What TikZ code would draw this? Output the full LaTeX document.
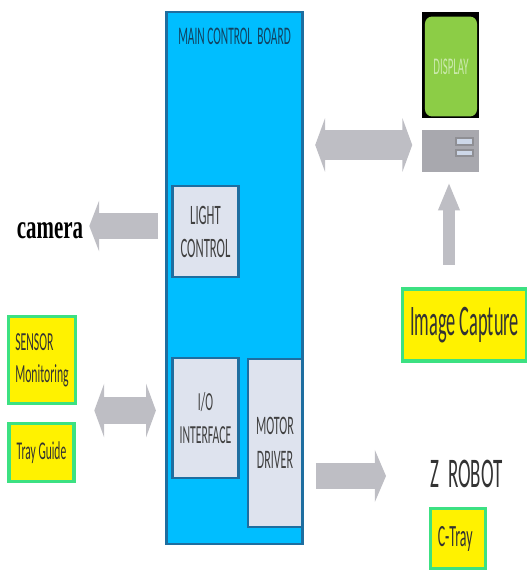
\documentclass[tikz,border=0pt]{standalone}
\usepackage{fontspec}
\usepackage{tikz}
\usetikzlibrary{arrows.meta}
\setmainfont[FakeStretch=0.45]{Carlito}
\newfontfamily\narrowfont[FakeStretch=0.42]{Carlito}
\newfontfamily\camerafont[FakeStretch=0.62]{Liberation Serif}
\definecolor{boardBlue}{RGB}{0, 190, 255}
\definecolor{boardEdge}{RGB}{30, 110, 160}
\definecolor{innerGray}{RGB}{222, 227, 238}
\definecolor{signGreen}{RGB}{60, 225, 130}
\definecolor{screenGreen}{RGB}{140, 205, 70}
\definecolor{arrowGray}{RGB}{190, 190, 196}
\definecolor{deviceGray}{RGB}{168, 168, 174}
\definecolor{barGray}{RGB}{205, 215, 232}
\tikzset{
    innerbox/.style={draw=boardEdge, line width=1.5pt, fill=innerGray, align=center, inner sep=0pt, text=black!75},
    signbox/.style={draw=signGreen, line width=2.4pt, fill=yellow, align=left, inner sep=0pt, text=black!80},
    blockarrow/.style={arrowGray, line width=19pt},
    barbox/.style={draw=deviceGray!85!black, line width=1pt, fill=barGray, minimum width=12pt, inner sep=0pt}
}
\newcommand{\sizept}[2]{\fontsize{#1}{#2}\selectfont}

\begin{document}
\begin{tikzpicture}[x=0.025cm, y=-0.025cm]
    \useasboundingbox (0,0) rectangle (526,572);
    % board
    \node[draw=boardEdge, line width=1.8pt, fill=boardBlue, minimum width=97pt, minimum height=378pt, inner sep=0pt] (board) at (234.5,278) {};
    \node[text=boardEdge!60!black, font=\sizept{18}{20}] (title) at (234.5,36) {MAIN CONTROL\ \ BOARD};
    \node[innerbox, minimum width=47pt, minimum height=65pt, font=\sizept{20}{23.5}] (light) at (205.5,231.5) {LIGHT\\CONTROL};
    \node[innerbox, minimum width=47pt, minimum height=85pt, font=\sizept{18.5}{23}] (io) at (205.5,418) {I/O\\INTERFACE};
    \node[innerbox, minimum width=38pt, minimum height=120pt, font=\sizept{19}{24}] (motor) at (275,443) {MOTOR\\DRIVER};
    % display
    \node[fill=black, minimum width=40pt, minimum height=76pt, inner sep=0pt] (screen) at (450.5,65) {};
    \node[fill=screenGreen, rounded corners=5pt, minimum width=37pt, minimum height=71pt, inner sep=0pt, text=screenGreen!45!white, font=\sizept{17}{20}] (display) at (451,66.5) {DISPLAY};
    \node[fill=deviceGray, minimum width=40pt, minimum height=30pt, inner sep=0pt] (device) at (450.5,151) {};
    \node[barbox, minimum height=5pt] (barA) at (464.5,141.5) {};
    \node[barbox, minimum height=4.5pt] (barB) at (464.5,153) {};
    % outside
    \node[font=\camerafont\bfseries\sizept{24}{28}, text=black, inner sep=0pt] (camera) at (50,231) {camera};
    \node[signbox, minimum width=48pt, minimum height=62pt, font=\sizept{18.5}{23}] (sensor) at (42,360) {SENSOR\\Monitoring};
    \node[signbox, minimum width=46pt, minimum height=41pt, font=\sizept{18.2}{20}] (tray) at (41.5,452.5) {Tray Guide};
    \node[signbox, minimum width=88pt, minimum height=51pt, font=\narrowfont\sizept{31}{34}] (capture) at (464.5,325) {Image Capture};
    \node[text=black!80, font=\sizept{30}{32}, inner sep=0pt] (robot) at (466.5,474) {Z\ \ ROBOT};
    \node[signbox, minimum width=39pt, minimum height=43pt, font=\sizept{22}{24}] (ctray) at (458,538.5) {\hspace{-4pt}C-Tray};
    % arrows
    \draw[blockarrow, shorten <=5pt, shorten >=4.2pt, -{Triangle[length=7pt, width=36pt]}] (board.west |- 0,226) -- (camera.east |- 0,226);
    \draw[blockarrow, line width=21pt, shorten <=8pt, shorten >=7pt, {Triangle[length=7pt, width=38pt]}-{Triangle[length=7pt, width=38pt]}] (board.east |- 0,145) -- (device.west |- 0,145);
    \draw[blockarrow, shorten <=12pt, shorten >=6.5pt, {Triangle[length=7pt, width=38pt]}-{Triangle[length=7pt, width=38pt]}] (sensor.east |- 0,410.5) -- (board.west |- 0,410.5);
    \draw[blockarrow, line width=18.5pt, shorten <=8.5pt, shorten >=31.5pt, -{Triangle[length=8pt, width=37pt]}] (board.east |- 0,476) -- (robot.west |- 0,476);
    \draw[blockarrow, line width=8pt, shorten <=16pt, shorten >=7pt, -{Triangle[length=20pt, width=14pt]}] (capture.north -| 449,0) -- (device.south -| 449,0);
\end{tikzpicture}
\end{document}
